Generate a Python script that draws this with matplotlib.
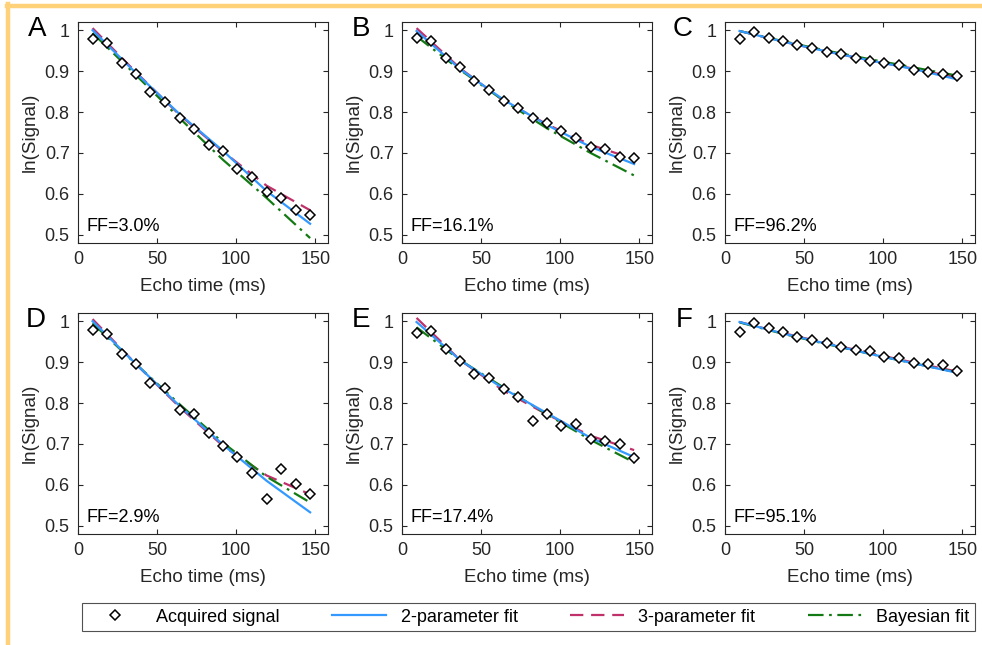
import matplotlib
matplotlib.use('Agg')
import matplotlib.pyplot as plt
from matplotlib.lines import Line2D

plt.rcParams['font.family'] = ['Liberation Sans', 'DejaVu Sans']

# echo times (ms)
te = [9.2, 18.3, 27.5, 36.7, 45.8, 55.0, 64.2, 73.3, 82.5, 91.7, 100.8, 110.0, 119.2, 128.3, 137.5, 146.7]
te_fit = [9.2, 36.7, 64.2, 91.7, 119.2, 146.7]

labels = ['A', 'B', 'C', 'D', 'E', 'F']
ff_text = ['FF=3.0%', 'FF=16.1%', 'FF=96.2%', 'FF=2.9%', 'FF=17.4%', 'FF=95.1%']

signal_A = [0.978, 0.969, 0.921, 0.894, 0.849, 0.825, 0.785, 0.759, 0.719, 0.705, 0.660, 0.642, 0.604, 0.591, 0.561, 0.548]
signal_B = [0.980, 0.974, 0.933, 0.909, 0.876, 0.855, 0.827, 0.811, 0.785, 0.774, 0.754, 0.737, 0.715, 0.710, 0.689, 0.687]
signal_C = [0.978, 0.996, 0.982, 0.973, 0.963, 0.957, 0.947, 0.941, 0.933, 0.924, 0.919, 0.914, 0.902, 0.898, 0.894, 0.888]
signal_D = [0.979, 0.969, 0.920, 0.896, 0.850, 0.836, 0.782, 0.774, 0.726, 0.694, 0.669, 0.629, 0.565, 0.639, 0.602, 0.577]
signal_E = [0.971, 0.976, 0.932, 0.902, 0.870, 0.862, 0.835, 0.814, 0.757, 0.774, 0.745, 0.748, 0.713, 0.707, 0.700, 0.665]
signal_F = [0.973, 0.995, 0.984, 0.973, 0.961, 0.954, 0.946, 0.938, 0.930, 0.928, 0.912, 0.910, 0.897, 0.895, 0.892, 0.879]

fit2_A = [1.000, 0.895, 0.795, 0.705, 0.607, 0.527]
fit2_B = [0.998, 0.905, 0.830, 0.768, 0.715, 0.673]
fit2_C = [0.998, 0.972, 0.948, 0.926, 0.905, 0.880]
fit2_D = [1.000, 0.895, 0.793, 0.698, 0.610, 0.533]
fit2_E = [0.998, 0.905, 0.835, 0.775, 0.715, 0.668]
fit2_F = [0.998, 0.970, 0.945, 0.920, 0.897, 0.874]

fit3_A = [1.005, 0.897, 0.793, 0.703, 0.620, 0.560]
fit3_B = [1.005, 0.907, 0.828, 0.770, 0.720, 0.685]
fit3_C = [0.998, 0.972, 0.948, 0.926, 0.906, 0.884]
fit3_D = [1.005, 0.895, 0.790, 0.695, 0.623, 0.577]
fit3_E = [1.008, 0.905, 0.830, 0.772, 0.720, 0.685]
fit3_F = [0.998, 0.971, 0.946, 0.922, 0.899, 0.877]

bayes_A = [0.993, 0.890, 0.785, 0.683, 0.590, 0.492]
bayes_B = [0.985, 0.903, 0.828, 0.760, 0.700, 0.645]
bayes_C = [0.998, 0.973, 0.950, 0.929, 0.909, 0.889]
bayes_D = [0.995, 0.895, 0.797, 0.703, 0.620, 0.557]
bayes_E = [0.985, 0.905, 0.838, 0.772, 0.710, 0.655]
bayes_F = [0.997, 0.969, 0.944, 0.920, 0.897, 0.875]

signals = [signal_A, signal_B, signal_C, signal_D, signal_E, signal_F]
fit2 = [fit2_A, fit2_B, fit2_C, fit2_D, fit2_E, fit2_F]
fit3 = [fit3_A, fit3_B, fit3_C, fit3_D, fit3_E, fit3_F]
bayes = [bayes_A, bayes_B, bayes_C, bayes_D, bayes_E, bayes_F]

c_blue = '#3399ff'
c_red = '#c0306a'
c_green = '#137a13'
c_axis = '#262626'

W, H = 982, 645
fig = plt.figure(figsize=(W / 100, H / 100), dpi=100)

# axes positions in pixels (left, right) / (top, bottom)
col_x = [(78, 328), (402, 652), (725, 975)]
row_y = [(22, 243), (313, 534)]

handles = None
for i in range(6):
    r, c = divmod(i, 3)
    x0, x1 = col_x[c]
    y0, y1 = row_y[r]
    ax = fig.add_axes([x0 / W, 1 - y1 / H, (x1 - x0) / W, (y1 - y0) / H])
    h1, = ax.plot(te, signals[i], linestyle='none', marker='D', markersize=5.2,
                  markerfacecolor='white', markeredgecolor='black', markeredgewidth=1.1,
                  zorder=5)
    h2, = ax.plot(te_fit, fit2[i], color=c_blue, lw=1.6, zorder=4)
    h3, = ax.plot(te_fit, fit3[i], color=c_red, lw=1.6, dashes=(6, 3.5), zorder=3)
    h4, = ax.plot(te_fit, bayes[i], color=c_green, lw=1.6, dashes=(7, 2.5, 1.2, 2.5), zorder=3)
    handles = [h1, h2, h3, h4]

    ax.set_xlim(0, 158)
    ax.set_ylim(0.48, 1.02)
    ax.set_xticks([0, 50, 100, 150])
    ax.set_yticks([0.5, 0.6, 0.7, 0.8, 0.9, 1.0])
    ax.set_yticklabels(['0.5', '0.6', '0.7', '0.8', '0.9', '1'])
    ax.tick_params(direction='in', top=True, right=True, length=3.5, width=0.8,
                   colors=c_axis, labelsize=13, pad=6)
    for s in ax.spines.values():
        s.set_color(c_axis)
        s.set_linewidth(0.8)
    ax.set_xlabel('Echo time (ms)', fontsize=13.5, color=c_axis, labelpad=7)
    ax.set_ylabel('ln(Signal)', fontsize=13.5, color=c_axis, labelpad=4)
    ax.text(0.035, 0.035, ff_text[i], transform=ax.transAxes, fontsize=13,
            color='black', ha='left', va='bottom')
    fig.text((x0 - 32) / W, 1 - (y0 + 7) / H, labels[i], fontsize=20,
             ha='right', va='center', color='black')

leg = fig.legend(handles, ['Acquired signal', '2-parameter fit', '3-parameter fit', 'Bayesian fit'],
                 loc='lower left', ncol=4, mode='expand',
                 bbox_to_anchor=(82 / W, 1 - 631 / H, (975 - 82) / W, 31 / H),
                 fontsize=13, frameon=True, fancybox=False, handlelength=3.0,
                 borderaxespad=0, borderpad=0.3, handletextpad=0.8)
leg.get_frame().set_edgecolor(c_axis)
leg.get_frame().set_linewidth(0.8)

# yellow frame lines at top and left
fig.add_artist(Line2D([7 / W, 1], [1 - 5.5 / H, 1 - 5.5 / H], color='#ffd27a', lw=3.2))
fig.add_artist(Line2D([8 / W, 8 / W], [0, 1 - 4 / H], color='#ffd27a', lw=3.2))

fig.savefig('out.png', dpi=100)
